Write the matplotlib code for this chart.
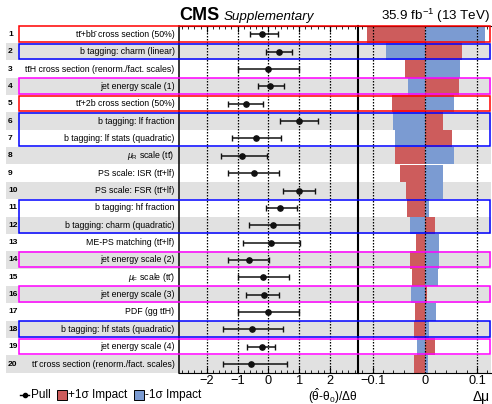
import matplotlib
matplotlib.use("Agg")
import matplotlib.pyplot as plt
from matplotlib.patches import Rectangle
from matplotlib.lines import Line2D
from matplotlib.transforms import blended_transform_factory
import numpy as np

plt.rcParams['font.family'] = ['Liberation Sans', 'DejaVu Sans']
plt.rcParams['mathtext.fontset'] = 'custom'
plt.rcParams['mathtext.rm'] = 'Liberation Sans'
plt.rcParams['mathtext.it'] = 'Liberation Sans:italic'
plt.rcParams['mathtext.bf'] = 'Liberation Sans:bold'

TT = 'tt\u0304'
BB = 'bb\u0304'
labels = [
    TT + '+' + BB + ' cross section (50%)',
    'b tagging: charm (linear)',
    TT + 'H cross section (renorm./fact. scales)',
    'jet energy scale (1)',
    TT + '+2b cross section (50%)',
    'b tagging: lf fraction',
    'b tagging: lf stats (quadratic)',
    r'$\mu_{\mathrm{R}}$ scale (' + TT + ')',
    'PS scale: ISR (' + TT + '+lf)',
    'PS scale: FSR (' + TT + '+lf)',
    'b tagging: hf fraction',
    'b tagging: charm (quadratic)',
    'ME-PS matching (' + TT + '+lf)',
    'jet energy scale (2)',
    r'$\mu_{\mathrm{F}}$ scale (' + TT + ')',
    'jet energy scale (3)',
    'PDF (gg ' + TT + 'H)',
    'b tagging: hf stats (quadratic)',
    'jet energy scale (4)',
    TT + ' cross section (renorm./fact. scales)',
]

pull = [-0.20, 0.35, 0.00, 0.05, -0.73, 1.00, -0.41, -0.84, -0.45, 1.00,
        0.38, 0.16, 0.08, -0.63, -0.18, -0.13, 0.00, -0.52, -0.19, -0.55]
pull_lo = [-0.59, -0.08, -1.00, -0.34, -1.32, 0.38, -1.17, -1.54, -1.30, 0.49,
           -0.08, -0.64, -0.81, -1.32, -0.99, -0.72, -1.00, -1.48, -0.68, -1.48]
pull_hi = [0.32, 0.76, 1.00, 0.50, -0.17, 1.61, 0.40, -0.03, 0.36, 1.53,
           0.93, 1.00, 1.03, 0.03, 0.66, 0.34, 1.00, 0.49, 0.23, 0.61]

impact_up = [-0.111, 0.071, -0.038, 0.065, -0.063, 0.034, 0.053, -0.057, -0.047, -0.036,
             -0.034, 0.019, -0.017, -0.028, -0.025, 0.004, -0.019, -0.021, 0.020, -0.020]
impact_dn = [0.116, -0.074, 0.067, -0.032, 0.055, -0.060, -0.057, 0.055, 0.035, 0.034,
             0.0075, -0.028, 0.028, 0.028, 0.026, -0.027, 0.0215, 0.0086, -0.0155, 0.0056]

# boxes: (first row, last row, colour)
boxes = [(1, 1, 'red'), (2, 2, 'blue'), (4, 4, 'magenta'), (5, 5, 'red'),
         (6, 7, 'blue'), (11, 12, 'blue'), (14, 14, 'magenta'), (16, 16, 'magenta'),
         (18, 18, 'blue'), (19, 19, 'magenta')]

RED = '#cd5c5c'
BLUE = '#7b9bd2'
GRAY = '#e1e1e1'

W, H = 492, 404
fig = plt.figure(figsize=(W / 100, H / 100), dpi=100)

top_px, bot_px = 25.7, 372.7
axl_px, mid_px, axr_px = 179, 358, 491
ax1 = fig.add_axes([axl_px / W, 1 - bot_px / H, (mid_px - axl_px) / W, (bot_px - top_px) / H])
ax2 = fig.add_axes([mid_px / W, 1 - bot_px / H, (axr_px - mid_px) / W, (bot_px - top_px) / H])
for ax in (ax1, ax2):
    ax.set_facecolor('none')
    ax.set_ylim(20, 0)
    ax.set_yticks([])

n = len(labels)
yc = np.arange(n) + 0.5

# pulls
ax1.set_xlim(-2.9, 2.91)
for v in [-2, -1, 0, 1, 2]:
    ax1.axvline(v, color='black', ls=(0, (1.2, 1.2)), lw=0.9, zorder=1)
p = np.array(pull)
ax1.errorbar(p, yc, xerr=[p - np.array(pull_lo), np.array(pull_hi) - p], fmt='o',
             color='#111111', ms=3.8, lw=1.1, capsize=2, capthick=1.0, zorder=3)
ax1.set_xticks([-2, -1, 0, 1, 2])
ax1.set_xticklabels(['\u22122', '\u22121', '0', '1', '2'])
ax1.set_xticks(np.arange(-2.8, 2.91, 0.2), minor=True)
ax1.tick_params(axis='x', which='both', direction='in', top=True, labelsize=9.2, pad=2)
ax1.tick_params(axis='x', which='major', length=4)
ax1.tick_params(axis='x', which='minor', length=2)
ax1.spines['left'].set_linewidth(1.1)
ax1.spines['right'].set_linewidth(1.5)
fig.text(357 / W, 1 - 400.5 / H, r'($\hat{\mathrm{θ}}$-$\mathrm{θ}_{0}$)/Δθ',
         ha='right', va='baseline', fontsize=8.6)

# impacts
ax2.set_xlim(-0.128, 0.1268)
for v in [-0.1, 0, 0.1]:
    ax2.axvline(v, color='black', ls=(0, (1.2, 1.2)), lw=0.9, zorder=3)
ax2.barh(yc, impact_up, height=1.0, color=RED, zorder=2, lw=0)
ax2.barh(yc, impact_dn, height=1.0, color=BLUE, zorder=2, lw=0)
ax2.set_xticks([-0.1, 0, 0.1])
ax2.set_xticklabels(['\u22120.1', '0', '0.1'])
ax2.set_xticks(np.arange(-0.12, 0.127, 0.02), minor=True)
ax2.tick_params(axis='x', which='both', direction='in', top=True, labelsize=9.2, pad=2)
ax2.tick_params(axis='x', which='major', length=4)
ax2.tick_params(axis='x', which='minor', length=2)
ax2.spines['left'].set_visible(False)
ax2.spines['right'].set_visible(False)
fig.text(490 / W, 1 - 401 / H, 'Δμ', ha='right', va='baseline', fontsize=10)

# gray bands and labels
tr = blended_transform_factory(fig.transFigure, ax1.transData)
for i in range(n):
    if (i + 1) % 2 == 0:
        fig.add_artist(Rectangle((6 / W, i), (491 - 6) / W, 1, transform=tr,
                                 facecolor=GRAY, edgecolor='none', zorder=-1))
    ax1.text(174.5 / W, i + 0.5, labels[i], transform=tr, ha='right', va='center',
             fontsize=6.3, clip_on=False)
    ax1.text(8 / W, i + 0.5, str(i + 1), transform=tr, ha='left', va='center',
             fontsize=6.0, fontweight='bold', clip_on=False)

for r0, r1, c in boxes:
    fig.add_artist(Rectangle((19 / W, r0 - 1 + 0.03), (490 - 19) / W, (r1 - r0 + 1) - 0.1,
                             transform=tr, facecolor='none', edgecolor=c, lw=1.1, zorder=10))

# header
fig.text(179 / W, 1 - 20 / H, 'CMS', fontsize=13, fontweight='bold', ha='left', va='baseline')
fig.text(224 / W, 1 - 20 / H, 'Supplementary', fontsize=9.6, fontstyle='italic', ha='left', va='baseline')
fig.text(490 / W, 1 - 20 / H, r'35.9 fb$^{-1}$ (13 TeV)', fontsize=9.6, ha='right', va='baseline')

# legend (manual)
ly = 1 - 395 / H
fs_leg = 8.5
fig.add_artist(Line2D([20 / W, 29 / W], [ly, ly], color='black', lw=1.0))
fig.add_artist(Line2D([24.5 / W], [ly], color='black', marker='o', ms=3, lw=0))
fig.text(31 / W, ly, 'Pull', ha='left', va='center', fontsize=fs_leg)
sq = 10
fig.add_artist(Rectangle((57 / W, ly - sq / 2 / H), sq / W, sq / H, facecolor=RED,
                         edgecolor='black', lw=0.7))
fig.text(68 / W, ly, '+1σ Impact', ha='left', va='center', fontsize=fs_leg)
fig.add_artist(Rectangle((134 / W, ly - sq / 2 / H), sq / W, sq / H, facecolor=BLUE,
                         edgecolor='black', lw=0.7))
fig.text(145 / W, ly, '-1σ Impact', ha='left', va='center', fontsize=fs_leg)

fig.savefig('out.png', dpi=100)
